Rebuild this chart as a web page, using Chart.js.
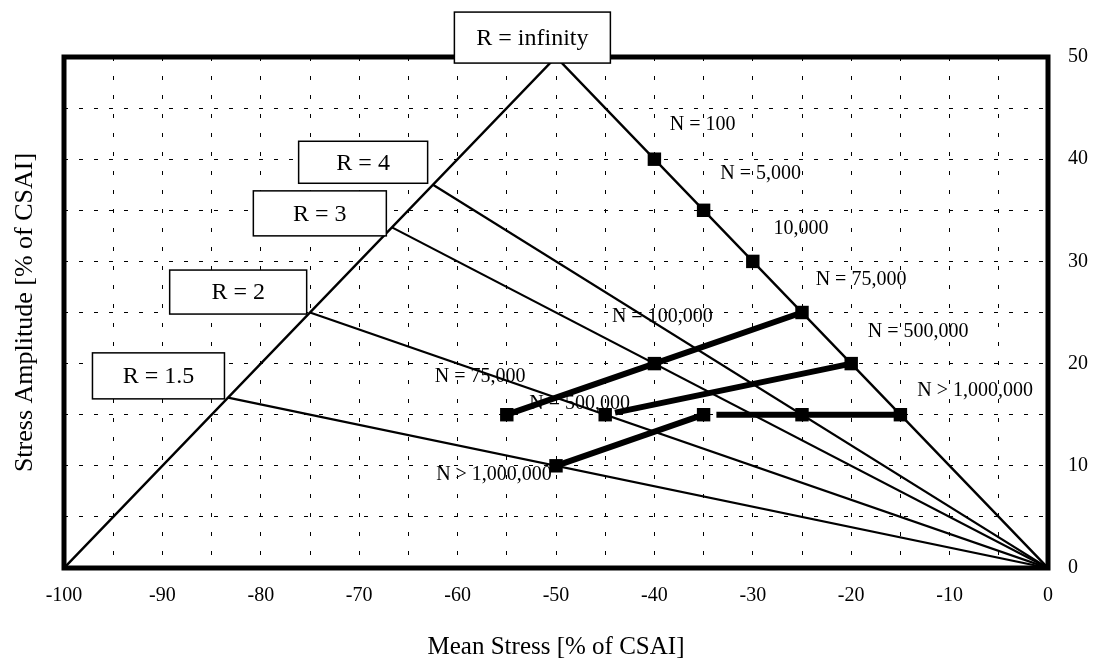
<!DOCTYPE html>
<html>
<head>
<meta charset="utf-8">
<script src="https://cdn.jsdelivr.net/npm/chart.js@4/dist/chart.umd.min.js"></script>
<style>
  html, body { margin: 0; padding: 0; background: #fff; }
  #wrap { width: 1101px; height: 668px; }
</style>
</head>
<body>
<div id="wrap"><canvas id="c" width="1101" height="668"></canvas></div>
<script>
// Goodman-style constant-life diagram: mean stress vs stress amplitude (% of CSAI)

// Static strength envelope (left edge) and R = infinity line (right edge)
const envelopeMean = [-100, -50, 0];
const envelopeAmp  = [0, 50, 0];

// Constant R-ratio rays from the origin to the envelope
const rayNames   = ['R = 4', 'R = 3', 'R = 2', 'R = 1.5'];
const rayEndMean = [-62.5, -66.67, -75, -83.33];
const rayEndAmp  = [37.5, 33.33, 25, 16.67];

// Test points on the R = infinity line
const infMean = [-40, -35, -30, -25, -20, -15];
const infAmp  = [40, 35, 30, 25, 20, 15];

// Constant-life curves
const n100kMean = [-55, -40, -25];
const n100kAmp  = [15, 20, 25];
const n500kMean = [-44, -20];
const n500kAmp  = [15.2, 20];
const n1mLowMean  = [-50, -35];
const n1mLowAmp   = [10, 15];
const n1mFlatMean = [-33.7, -15];
const n1mFlatAmp  = [15, 15];

// Test points off the R = infinity line
const otherMean = [-55, -40, -45, -50, -35, -25];
const otherAmp  = [15, 20, 15, 10, 15, 15];

// Axis ticks
const xTicks = [-100, -90, -80, -70, -60, -50, -40, -30, -20, -10, 0];
const yTicks = [0, 10, 20, 30, 40, 50];

// Text labels (anchors given in data units)
const notes = [
  { text: 'N = 100',       x: -35.1, y: 43.4 },
  { text: 'N = 5,000',     x: -29.2, y: 38.6 },
  { text: '10,000',        x: -25.1, y: 33.2 },
  { text: 'N = 75,000',    x: -19.0, y: 28.2 },
  { text: 'N = 100,000',   x: -39.2, y: 24.6 },
  { text: 'N = 500,000',   x: -13.2, y: 23.1 },
  { text: 'N > 1,000,000', x: -7.4,  y: 17.3 },
  { text: 'N = 75,000',    x: -57.7, y: 18.7 },
  { text: 'N = 500,000',   x: -47.6, y: 16.1 },
  { text: 'N > 1,000,000', x: -56.3, y: 9.1 }
];
const boxes = [
  { text: 'R = infinity', x: -52.4, y: 51.9, w: 156, h: 51 },
  { text: rayNames[0],    x: -69.6, y: 39.7, w: 129, h: 42 },
  { text: rayNames[1],    x: -74.0, y: 34.7, w: 133, h: 45 },
  { text: rayNames[2],    x: -82.3, y: 27.0, w: 137, h: 44 },
  { text: rayNames[3],    x: -90.4, y: 18.8, w: 132, h: 46 }
];

const SERIF = '"Liberation Serif", "Times New Roman", serif';
const pts = (xs, ys) => xs.map((x, i) => ({ x: x, y: ys[i] }));

function lineSet(data, width) {
  return {
    data: data, showLine: true, borderColor: '#000', borderWidth: width,
    pointRadius: 0, pointHoverRadius: 0, fill: false, order: 5
  };
}
function markerSet(data) {
  return {
    data: data, showLine: false, pointStyle: 'rect', pointRadius: 9.5,
    pointHoverRadius: 9.5, backgroundColor: '#000', borderColor: '#000',
    borderWidth: 0, order: 0
  };
}

const datasets = [
  markerSet(pts(infMean, infAmp)),
  markerSet(pts(otherMean, otherAmp)),
  lineSet(pts(envelopeMean, envelopeAmp), 2.5),
  ...rayEndMean.map((m, i) => lineSet([{ x: 0, y: 0 }, { x: m, y: rayEndAmp[i] }], 2.2)),
  lineSet(pts(n100kMean, n100kAmp), 6),
  lineSet(pts(n500kMean, n500kAmp), 6),
  lineSet(pts(n1mLowMean, n1mLowAmp), 6),
  lineSet(pts(n1mFlatMean, n1mFlatAmp), 6)
];

const decorations = {
  id: 'decorations',
  beforeDatasetsDraw(chart) {
    const { ctx, chartArea: a } = chart;
    ctx.save();
    ctx.strokeStyle = '#000';
    ctx.lineWidth = 5;
    ctx.strokeRect(a.left, a.top, a.right - a.left, a.bottom - a.top);
    ctx.restore();
  },
  afterDatasetsDraw(chart) {
    const { ctx } = chart;
    const xs = chart.scales.x, ys = chart.scales.y;
    ctx.save();
    ctx.fillStyle = '#000';
    ctx.textAlign = 'center';
    ctx.textBaseline = 'middle';
    ctx.font = '20px ' + SERIF;
    notes.forEach(n => {
      ctx.fillText(n.text, xs.getPixelForValue(n.x), ys.getPixelForValue(n.y));
    });
    ctx.font = '24px ' + SERIF;
    boxes.forEach(b => {
      const cx = xs.getPixelForValue(b.x), cy = ys.getPixelForValue(b.y);
      ctx.fillStyle = '#fff';
      ctx.fillRect(cx - b.w / 2, cy - b.h / 2, b.w, b.h);
      ctx.strokeStyle = '#000';
      ctx.lineWidth = 1.5;
      ctx.strokeRect(cx - b.w / 2, cy - b.h / 2, b.w, b.h);
      ctx.fillStyle = '#000';
      ctx.fillText(b.text, cx, cy + 1);
    });
    ctx.restore();
  }
};

new Chart(document.getElementById('c'), {
  type: 'scatter',
  data: { datasets: datasets },
  plugins: [decorations],
  options: {
    responsive: false,
    devicePixelRatio: 1,
    animation: false,
    layout: { padding: { top: 57, left: 0, right: 0, bottom: 0 } },
    plugins: { legend: { display: false }, tooltip: { enabled: false } },
    scales: {
      x: {
        type: 'linear', min: -100, max: 0,
        afterFit(s) { s.height = 100; },
        ticks: {
          stepSize: 5, padding: 16, color: '#000',
          font: { family: SERIF, size: 20 },
          callback: v => (xTicks.includes(v) ? String(v) : '')
        },
        grid: { color: '#000', lineWidth: 1, drawTicks: false },
        border: { display: false, dash: [4, 15] },
        title: {
          display: true, text: 'Mean Stress [% of CSAI]', color: '#000',
          font: { family: SERIF, size: 25 }, padding: { top: 0, bottom: 6 }
        }
      },
      y: {
        type: 'linear', position: 'right', min: 0, max: 50,
        afterFit(s) { s.width = 53; },
        ticks: {
          stepSize: 5, padding: 20, color: '#000',
          font: { family: SERIF, size: 20 },
          callback: v => (yTicks.includes(v) ? String(v) : '')
        },
        grid: { color: '#000', lineWidth: 1, drawTicks: false },
        border: { display: false, dash: [4, 11] }
      },
      yTitle: {
        type: 'linear', position: 'left', min: 0, max: 50,
        afterFit(s) { s.width = 64; },
        ticks: { display: false },
        grid: { display: false, drawTicks: false },
        border: { display: false },
        title: {
          display: true, text: 'Stress Amplitude [% of CSAI]', color: '#000',
          font: { family: SERIF, size: 26 }, padding: { top: 10, bottom: 0 }
        }
      }
    }
  }
});
</script>
</body>
</html>
